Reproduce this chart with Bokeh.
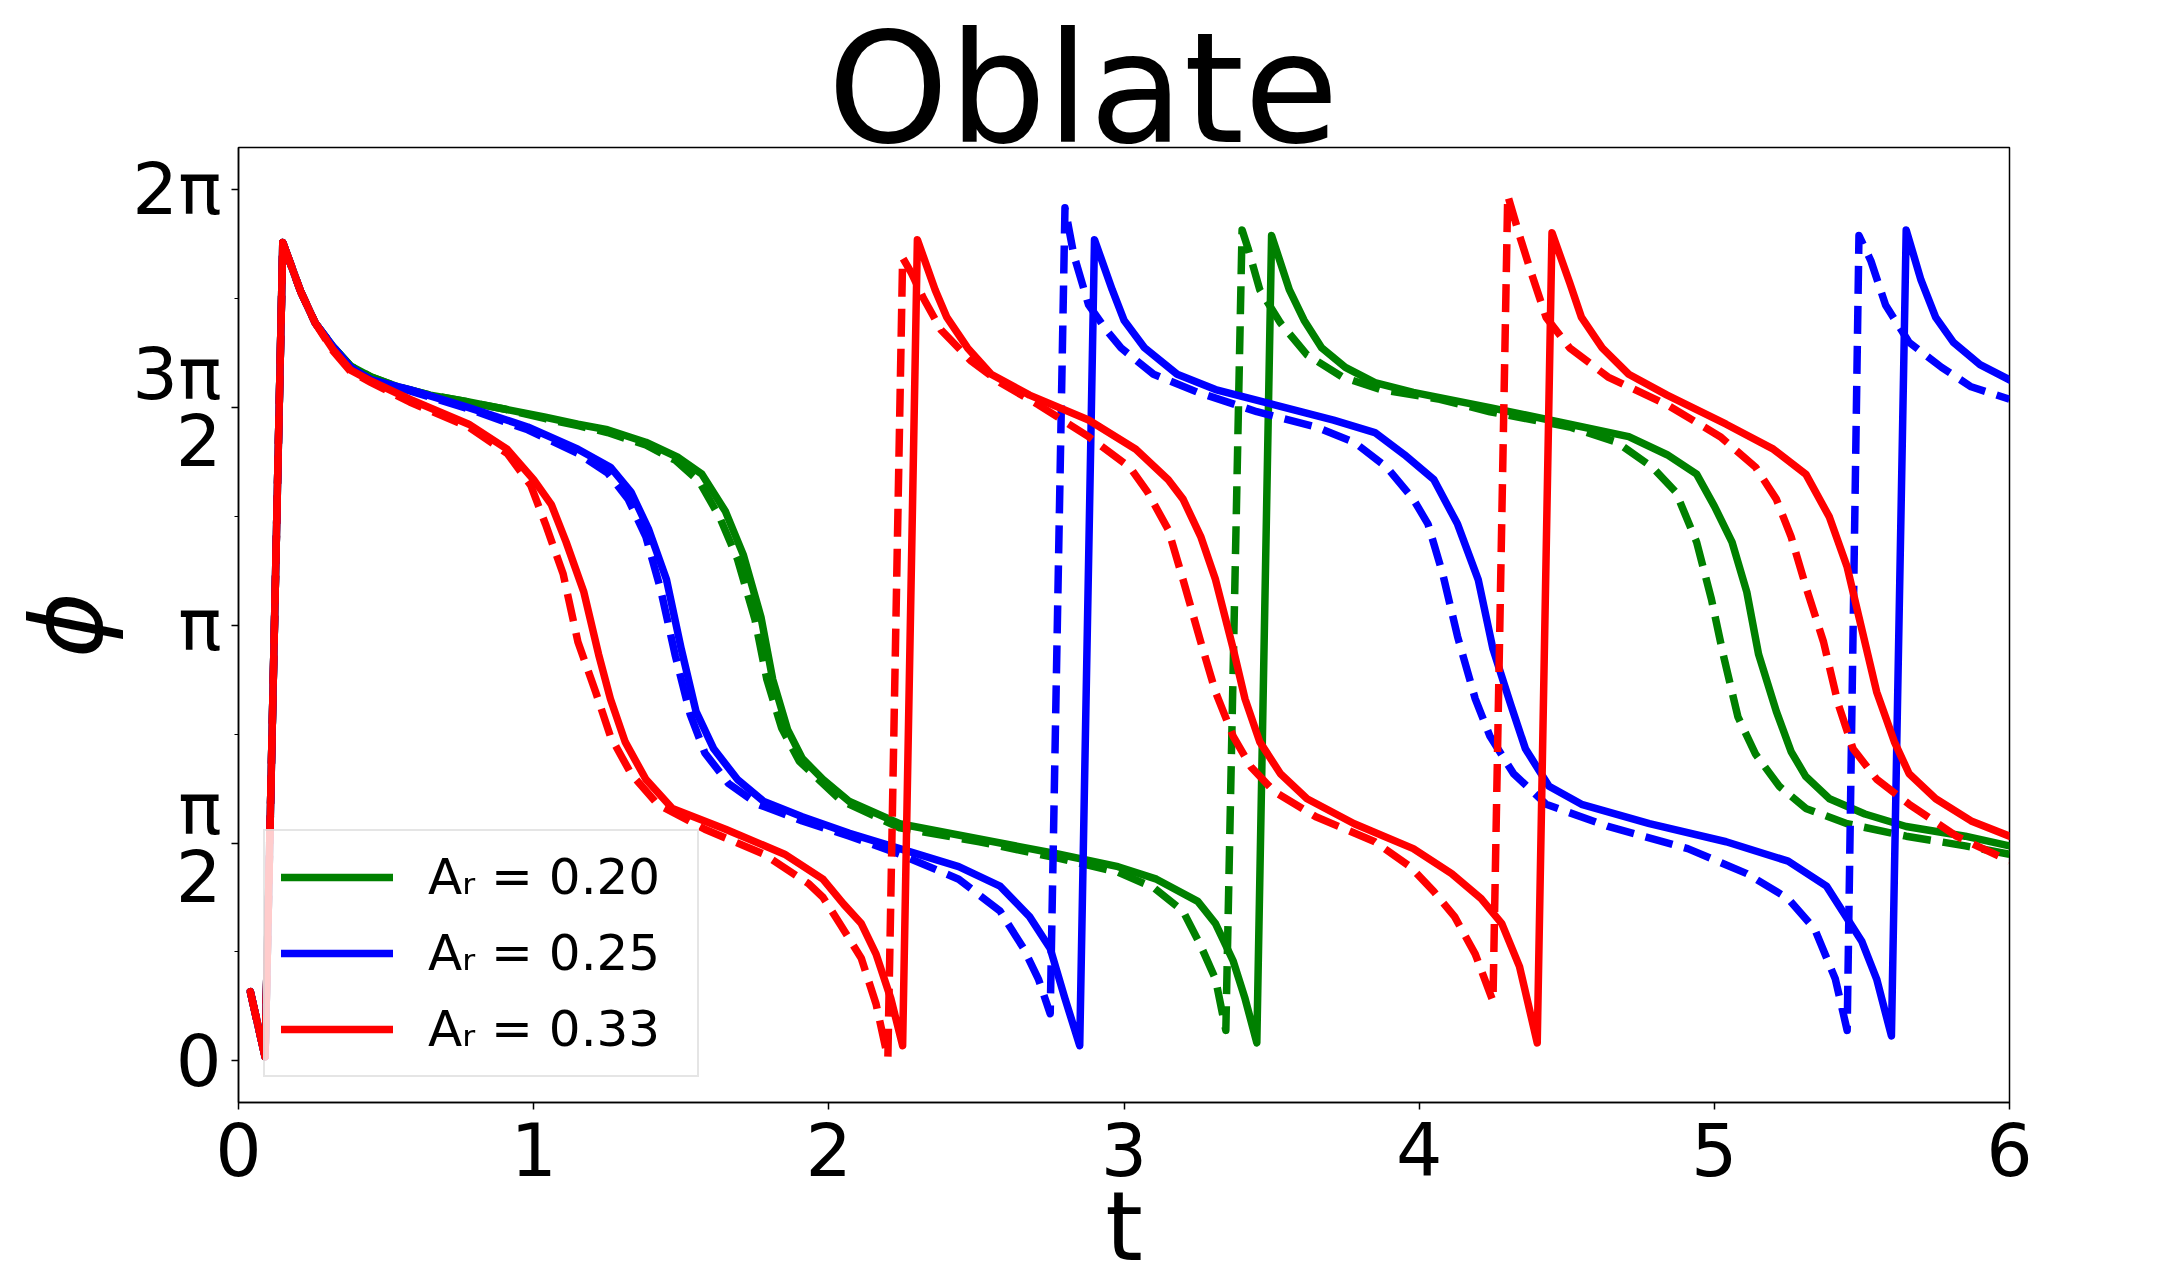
import math
from bokeh.plotting import figure
from bokeh.models import Range1d, FixedTicker, Legend, LegendItem
from bokeh.embed import file_html
from bokeh.resources import INLINE

PI = math.pi

# ---------------- data ----------------
t_green_solid = [0.04,0.09,0.15,0.21,0.26,0.32,0.38,0.45,0.54,0.65,0.78,0.90,1.04,1.15,1.25,1.38,1.49,
                 1.57,1.65,1.71,1.77,1.81,1.86,1.91,1.98,2.07,2.24,2.51,2.78,2.98,3.11,3.25,3.31,3.37,
                 3.41,3.45,3.50,3.56,3.61,3.67,3.75,3.85,3.98,4.24,4.51,4.71,4.84,4.94,5.00,5.06,5.11,
                 5.15,5.21,5.26,5.31,5.39,5.51,5.65,5.85,6.00]
phi_green_solid = [0.50,0.03,5.90,5.55,5.32,5.15,5.01,4.93,4.86,4.80,4.75,4.70,4.64,4.59,4.55,4.46,4.35,
                   4.23,3.96,3.65,3.20,2.75,2.39,2.18,2.03,1.87,1.71,1.60,1.49,1.40,1.31,1.15,0.99,0.72,
                   0.45,0.13,5.95,5.56,5.34,5.14,5.00,4.89,4.82,4.71,4.59,4.50,4.37,4.23,4.00,3.74,3.38,
                   2.93,2.52,2.23,2.05,1.89,1.78,1.69,1.62,1.55]

t_green_dashed = [0.04,0.09,0.15,0.21,0.26,0.32,0.38,0.45,0.54,0.65,0.78,0.90,1.04,1.15,1.25,1.38,1.48,
                  1.56,1.63,1.69,1.75,1.79,1.84,1.90,1.97,2.04,2.24,2.51,2.78,2.98,3.10,3.20,3.26,3.31,
                  3.345,3.40,3.42,3.46,3.53,3.62,3.74,3.87,4.07,4.24,4.51,4.67,4.79,4.87,4.94,4.99,5.03,
                  5.08,5.14,5.22,5.31,5.45,5.65,5.85,6.00]
phi_green_dashed = [0.50,0.03,5.90,5.55,5.32,5.15,5.01,4.93,4.86,4.80,4.75,4.70,4.63,4.58,4.53,4.44,4.33,
                    4.18,3.92,3.62,3.18,2.75,2.40,2.16,2.02,1.88,1.68,1.58,1.46,1.36,1.25,1.08,0.83,0.59,
                    0.22,5.99,5.86,5.56,5.32,5.09,4.93,4.84,4.77,4.68,4.57,4.46,4.28,4.10,3.74,3.33,2.93,
                    2.48,2.21,1.98,1.82,1.71,1.62,1.55,1.49]

t_blue_solid = [0.04,0.09,0.15,0.21,0.26,0.32,0.38,0.45,0.58,0.78,0.98,1.15,1.26,1.33,1.39,1.45,1.50,
                1.55,1.61,1.69,1.78,1.91,2.07,2.24,2.44,2.58,2.68,2.75,2.80,2.85,2.90,2.96,3.00,3.07,
                3.18,3.31,3.51,3.71,3.85,3.95,4.05,4.13,4.20,4.25,4.31,4.36,4.44,4.55,4.78,5.04,5.25,
                5.38,5.50,5.55,5.60,5.65,5.70,5.75,5.81,5.90,6.00]
phi_blue_solid = [0.50,0.03,5.90,5.55,5.32,5.15,5.00,4.91,4.84,4.71,4.57,4.41,4.28,4.10,3.83,3.47,2.97,
                  2.52,2.25,2.03,1.87,1.76,1.64,1.53,1.40,1.26,1.04,0.81,0.45,0.11,5.92,5.56,5.34,5.14,
                  4.95,4.84,4.73,4.62,4.53,4.37,4.19,3.87,3.47,2.97,2.57,2.25,1.98,1.85,1.71,1.58,1.44,
                  1.26,0.86,0.59,0.18,5.99,5.63,5.36,5.18,5.02,4.91]

t_blue_dashed = [0.04,0.09,0.15,0.21,0.26,0.32,0.38,0.45,0.58,0.78,0.98,1.15,1.25,1.32,1.38,1.43,1.48,
                 1.53,1.58,1.66,1.76,1.91,2.07,2.24,2.44,2.58,2.66,2.71,2.75,2.80,2.83,2.88,2.94,2.99,
                 3.10,3.25,3.45,3.65,3.78,3.89,3.98,4.03,4.08,4.13,4.19,4.24,4.32,4.43,4.64,4.91,5.11,
                 5.25,5.34,5.41,5.45,5.49,5.53,5.58,5.66,5.77,5.87,6.00]
phi_blue_dashed = [0.50,0.03,5.90,5.55,5.32,5.15,5.00,4.91,4.83,4.70,4.55,4.38,4.24,4.05,3.78,3.40,2.92,
                   2.50,2.22,2.00,1.85,1.73,1.62,1.49,1.31,1.08,0.81,0.59,0.34,6.15,5.81,5.45,5.27,5.14,
                   4.95,4.82,4.68,4.57,4.46,4.28,4.05,3.87,3.51,3.06,2.61,2.34,2.07,1.85,1.69,1.53,1.35,
                   1.17,0.95,0.59,0.22,5.95,5.77,5.45,5.18,5.00,4.86,4.77]

t_red_solid = [0.04,0.09,0.15,0.21,0.26,0.32,0.38,0.45,0.58,0.78,0.91,1.00,1.06,1.11,1.17,1.22,1.26,
               1.31,1.38,1.47,1.65,1.85,1.98,2.05,2.11,2.16,2.21,2.25,2.30,2.36,2.40,2.47,2.55,2.68,
               2.88,3.04,3.15,3.20,3.26,3.31,3.37,3.41,3.46,3.53,3.62,3.78,3.98,4.11,4.21,4.28,4.34,
               4.40,4.45,4.51,4.55,4.62,4.71,4.84,5.04,5.20,5.31,5.39,5.45,5.49,5.55,5.61,5.66,5.75,
               5.87,6.00]
phi_red_solid = [0.50,0.03,5.90,5.55,5.32,5.13,4.98,4.90,4.77,4.59,4.41,4.19,4.01,3.74,3.38,2.93,2.61,
                 2.30,2.03,1.82,1.67,1.49,1.31,1.13,0.99,0.77,0.45,0.11,5.92,5.56,5.36,5.14,4.95,4.80,
                 4.62,4.41,4.19,4.05,3.78,3.47,2.97,2.61,2.30,2.07,1.89,1.71,1.53,1.35,1.17,0.99,0.68,
                 0.13,5.97,5.61,5.36,5.14,4.95,4.80,4.59,4.41,4.23,3.92,3.56,3.20,2.66,2.30,2.07,1.89,
                 1.73,1.62]

t_red_dashed = [0.04,0.09,0.15,0.21,0.26,0.32,0.38,0.45,0.58,0.78,0.91,0.99,1.04,1.10,1.15,1.21,1.26,
                1.33,1.42,1.58,1.78,1.93,1.98,2.04,2.11,2.16,2.20,2.25,2.28,2.32,2.38,2.48,2.58,2.71,
                2.88,3.02,3.08,3.15,3.20,3.26,3.31,3.37,3.43,3.51,3.65,3.85,3.97,4.05,4.12,4.19,4.25,
                4.30,4.34,4.38,4.43,4.51,4.64,4.84,5.02,5.14,5.21,5.26,5.31,5.37,5.42,5.47,5.55,5.66,
                5.82,6.00]
phi_red_dashed = [0.50,0.03,5.90,5.55,5.32,5.12,4.97,4.89,4.75,4.57,4.38,4.15,3.87,3.51,3.02,2.66,2.34,
                  2.07,1.85,1.67,1.49,1.28,1.18,0.98,0.74,0.41,0.02,5.79,5.68,5.50,5.27,5.05,4.89,4.73,
                  4.50,4.28,4.10,3.83,3.47,3.02,2.66,2.34,2.12,1.94,1.76,1.58,1.40,1.22,1.04,0.77,0.43,
                  6.24,5.95,5.68,5.36,5.14,4.93,4.73,4.50,4.28,4.05,3.78,3.42,3.02,2.57,2.25,2.03,1.85,
                  1.62,1.44]

series_labels = ["Aᵣ = 0.20", "Aᵣ = 0.25", "Aᵣ = 0.33"]
series_colors = ["#008000", "#0000ff", "#ff0000"]

x_ticks = [0, 1, 2, 3, 4, 5, 6]
y_ticks = [0, PI / 2, PI, 3 * PI / 2, 2 * PI]
y_minor_ticks = [PI / 4, 3 * PI / 4, 5 * PI / 4, 7 * PI / 4]
y_tick_labels = ["0", "π\n2", "π", "3π\n2", "2π"]

title_text = "Oblate"
x_label = "t"
y_label = "ϕ"

# ---------------- figure ----------------
FONT = "DejaVu Sans"
p = figure(width=2161, height=1285, output_backend="svg", toolbar_location=None,
           x_range=Range1d(0, 6), y_range=Range1d(-0.30, 6.585),
           min_border_left=238, min_border_right=152, min_border_top=147, min_border_bottom=175)
p.background_fill_color = "white"
p.border_fill_color = "white"
p.outline_line_color = "black"
p.outline_line_width = 1.5
p.xgrid.visible = False
p.ygrid.visible = False

p.title.text = title_text
p.title.text_font = FONT
p.title.text_font_size = "154px"
p.title.text_font_style = "normal"
p.title.text_color = "black"
p.title.align = "left"
p.title.offset = 589
p.title.standoff = -61

solids = [(t_green_solid, phi_green_solid), (t_blue_solid, phi_blue_solid), (t_red_solid, phi_red_solid)]
dashes = [(t_green_dashed, phi_green_dashed), (t_blue_dashed, phi_blue_dashed), (t_red_dashed, phi_red_dashed)]

items = []
for (ts, ps), (td, pd), col, lab in zip(solids, dashes, series_colors, series_labels):
    r = p.line(ts, ps, line_color=col, line_width=7.5, line_join="round", line_cap="round")
    p.line(td, pd, line_color=col, line_width=7.5, line_dash="28 12", line_join="round", line_cap="butt")
    items.append(LegendItem(label=lab, renderers=[r]))

# axes
xa = p.xaxis[0]
xa.ticker = FixedTicker(ticks=x_ticks, minor_ticks=[])
xa.major_label_text_font = FONT
xa.major_label_text_font_size = "73px"
xa.major_label_text_color = "black"
xa.major_label_standoff = 12
xa.major_tick_out = 7
xa.major_tick_in = 0
xa.minor_tick_out = 0
xa.axis_line_width = 1.5
xa.major_tick_line_width = 1.5
xa.axis_label = x_label
xa.axis_label_text_font = FONT
xa.axis_label_text_font_style = "normal"
xa.axis_label_text_font_size = "96px"
xa.axis_label_text_color = "black"
xa.axis_label_standoff = -8

ya = p.yaxis[0]
ya.ticker = FixedTicker(ticks=y_ticks, minor_ticks=y_minor_ticks)
ya.major_label_overrides = {v: s for v, s in zip(y_ticks, y_tick_labels)}
ya.major_label_text_font = FONT
ya.major_label_text_font_size = "72px"
ya.major_label_text_color = "black"
ya.major_label_text_line_height = 0.8
ya.major_label_standoff = 10
ya.major_tick_out = 7
ya.major_tick_in = 0
ya.minor_tick_out = 4
ya.minor_tick_in = 0
ya.axis_line_width = 1.5
ya.major_tick_line_width = 1.5
ya.minor_tick_line_width = 1.2
ya.axis_label = y_label
ya.axis_label_text_font = FONT
ya.axis_label_text_font_style = "italic"
ya.axis_label_text_font_size = "100px"
ya.axis_label_text_color = "black"
ya.axis_label_standoff = 3

legend = Legend(items=items, location=(25, 25))
legend.label_text_font = FONT
legend.label_text_font_size = "50px"
legend.label_text_color = "black"
legend.glyph_width = 112
legend.glyph_height = 60
legend.label_height = 60
legend.label_width = 253
legend.label_standoff = 35
legend.padding = 16
legend.spacing = 16
legend.margin = 0
legend.border_line_color = "#cccccc"
legend.border_line_width = 2
legend.background_fill_alpha = 0.8
p.add_layout(legend)

open("out.html", "w").write(file_html(p, INLINE))
